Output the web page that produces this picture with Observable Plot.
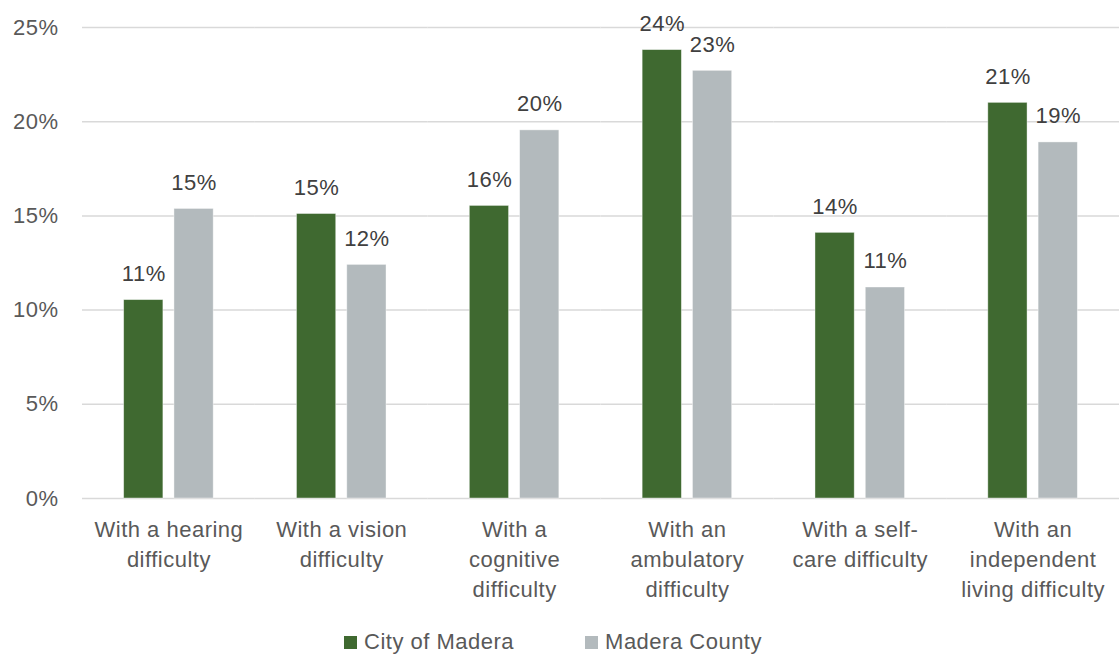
<!DOCTYPE html>
<html>
<head>
<meta charset="utf-8">
<script src="https://cdn.jsdelivr.net/npm/d3@7"></script>
<script src="https://cdn.jsdelivr.net/npm/@observablehq/plot@0.6"></script>
<style>
  html, body { margin: 0; padding: 0; background: #fff; }
  body { width: 1119px; height: 654px; overflow: hidden; font-family: "Liberation Sans", Arial, sans-serif; }
  #legend { display: flex; justify-content: center; align-items: center; gap: 0; height: 34px; padding-top: 9px;
    font-size: 22px; color: #595959; letter-spacing: 0.5px; margin-right: 13px; }
  .item { display: flex; align-items: center; }
  .sw { width: 13px; height: 13px; margin-right: 7px; display: inline-block; }
</style>
</head>
<body>
<div id="chart"></div>
<div id="legend"></div>
<script>
const categories = [
  "With a hearing\ndifficulty",
  "With a vision\ndifficulty",
  "With a\ncognitive\ndifficulty",
  "With an\nambulatory\ndifficulty",
  "With a self-\ncare difficulty",
  "With an\nindependent\nliving difficulty"
];
const series = ["City of Madera", "Madera County"];
const cityValues = [10.53, 15.1, 15.53, 23.8, 14.1, 21.0];
const countyValues = [15.37, 12.4, 19.54, 22.7, 11.2, 18.9];
const colors = ["#3f6930", "#b3babd"];
const yTicks = [0, 5, 10, 15, 20, 25];

const data = [];
categories.forEach((c, i) => {
  data.push({category: c, series: series[0], value: cityValues[i]});
  data.push({category: c, series: series[1], value: countyValues[i]});
});

const chart = Plot.plot({
  width: 1119,
  height: 616,
  marginTop: 27,
  marginBottom: 118,
  marginLeft: 82,
  marginRight: 0,
  style: {fontFamily: "'Liberation Sans', Arial, sans-serif", color: "#595959", letterSpacing: "0.5px"},
  fx: {domain: categories, padding: 0, round: false, label: null},
  x: {domain: series, paddingInner: 0.22, paddingOuter: 0.828, round: false, axis: null},
  y: {domain: [0, 25], ticks: yTicks, label: null},
  color: {domain: series, range: colors},
  marks: [
    Plot.gridY(yTicks, {stroke: "#d9d9d9", strokeOpacity: 1, strokeWidth: 1.5}),
    Plot.axisY(yTicks, {tickSize: 0, tickPadding: 24, fontSize: 22, tickFormat: d => d + "%", fill: "#595959", label: null}),
    Plot.barY(data, {fx: "category", x: "series", y: "value", fill: "series", stroke: "#ffffff", strokeWidth: 0.8, strokeOpacity: 0.5}),
    Plot.text(data, {fx: "category", x: "series", y: "value", text: d => Math.round(d.value) + "%", lineAnchor: "bottom", dy: -19, fontSize: 22, fill: "#404040"}),
    Plot.axisFx({anchor: "bottom", tickSize: 0, tickPadding: 17, fontSize: 22, lineHeight: 1.36, fill: "#595959", label: null})
  ]
});
document.getElementById("chart").appendChild(chart);

const legend = document.getElementById("legend");
series.forEach((s, i) => {
  const item = document.createElement("span");
  item.className = "item";
  if (i > 0) item.style.marginLeft = "71px";
  const sw = document.createElement("span");
  sw.className = "sw";
  sw.style.background = colors[i];
  item.appendChild(sw);
  item.appendChild(document.createTextNode(s));
  legend.appendChild(item);
});
</script>
</body>
</html>
